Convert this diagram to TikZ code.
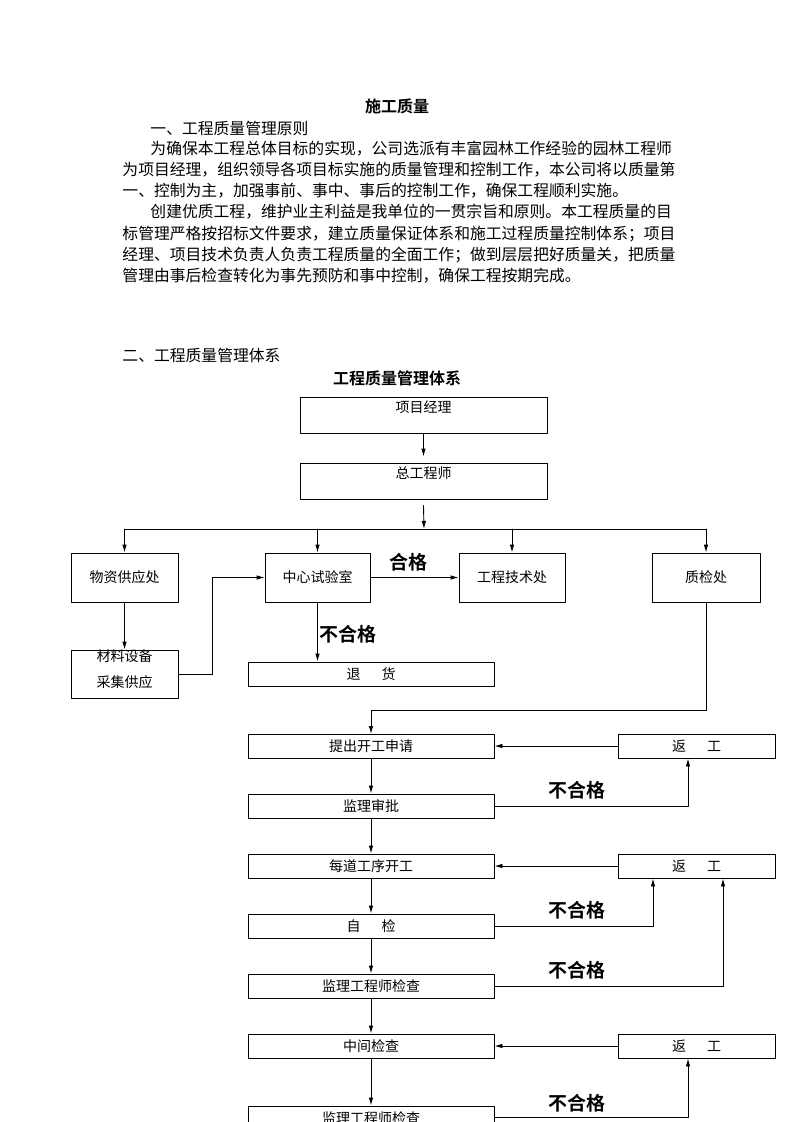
\documentclass[tikz,border=0pt]{standalone}
\usepackage{fontspec}
\setmainfont{Noto Sans CJK SC}[BoldFont={Noto Sans CJK SC Bold}]
\usetikzlibrary{arrows.meta}

\tikzset{
  box/.style={draw=black,line width=0.9pt,inner sep=0pt,font=\fontsize{14}{16}\selectfont},
  para/.style={anchor=west,inner sep=0pt,font=\fontsize{15.8}{21}\selectfont},
  head/.style={inner sep=0pt,font=\fontsize{16}{20}\selectfont\bfseries},
  nok/.style={inner sep=0pt,font=\fontsize{19}{22}\selectfont\bfseries},
}

\begin{document}
\begin{tikzpicture}[line cap=round,line join=round,>={Latex[length=8pt,width=4.5pt]},x=1pt,y=-1pt,line width=0.9pt]
  \fill[white] (0,0) rectangle (793,1122);
  \useasboundingbox (0,0) rectangle (793,1122);
  \clip (0,0) rectangle (793,1122);
  % text part
  \node[head] (titel) at (397,106) {施工质量};
  \node[para] (p0) at (150,128) {一、工程质量管理原则};
  \node[para] (p1) at (150,149) {为确保本工程总体目标的实现，公司选派有丰富园林工作经验的园林工程师};
  \node[para] (p2) at (122,170) {为项目经理，组织领导各项目标实施的质量管理和控制工作，本公司将以质量第};
  \node[para] (p3) at (122,191) {一、控制为主，加强事前、事中、事后的控制工作，确保工程顺利实施。};
  \node[para] (p4) at (150,212) {创建优质工程，维护业主利益是我单位的一贯宗旨和原则。本工程质量的目};
  \node[para] (p5) at (122,234) {标管理严格按招标文件要求，建立质量保证体系和施工过程质量控制体系；项目};
  \node[para] (p6) at (122,255) {经理、项目技术负责人负责工程质量的全面工作；做到层层把好质量关，把质量};
  \node[para] (p7) at (122,276) {管理由事后检查转化为事先预防和事中控制，确保工程按期完成。};
  \node[para] (p8) at (122,355) {二、工程质量管理体系};
  \node[head] (tixi) at (397,378) {工程质量管理体系};
  % upper chart
  \node[box,minimum width=247,minimum height=36,text depth=17pt] (xmjl) at (423.5,415) {项目经理};
  \node[box,minimum width=247,minimum height=36,text depth=17pt] (zgcs) at (423.5,481) {总工程师};
  \node[box,minimum width=107,minimum height=49] (wzgy) at (124.5,577.5) {物资供应处};
  \node[box,minimum width=105,minimum height=49] (zxsys) at (317.5,577.5) {中心试验室};
  \node[box,minimum width=106,minimum height=49] (gcjs) at (512,577.5) {工程技术处};
  \node[box,minimum width=108,minimum height=49] (zjc) at (706,577.5) {质检处};
  \node[box,minimum width=107,minimum height=48] (clsb) at (124.5,674) {};
  \node[box,draw=none,align=center,font=\fontsize{14}{26}\selectfont] (clsbt) at (124.5,669) {材料设备\\采集供应};
  \node[box,minimum width=246,minimum height=24] (th) at (371,674) {退\hspace{1.5em}货};
  \node[nok] (hg) at (408,562) {合格};
  \node[nok] (bhg0) at (348,634) {不合格};
  \coordinate (bus) at (424,529);
  \coordinate (qc) at (706,710);
  \draw[->] (xmjl.south) -- ([yshift=6pt]zgcs.north);
  \draw[->] ([yshift=-6pt]zgcs.south) -- (bus);
  \draw (wzgy.north |- bus) -- (zjc.north |- bus);
  \foreach \n in {wzgy,zxsys,gcjs,zjc}
    \draw[->] (\n.north |- bus) -- (\n.north);
  \draw[->] (zxsys) -- (gcjs);
  \draw[->] (wzgy) -- (clsb);
  \draw[->] (clsb.east) -- ++(34,0) |- (zxsys.west);
  \draw[->] (zxsys) -- (zxsys |- th.north);
  \draw[->] (zjc.south) -- (qc) -| (371,734);
  % lower chart
  \node[box,minimum width=246,minimum height=24] (tckg) at (371,746) {提出开工申请};
  \node[box,minimum width=246,minimum height=24] (jlsp) at (371,806) {监理审批};
  \node[box,minimum width=246,minimum height=24] (mdgx) at (371,866) {每道工序开工};
  \node[box,minimum width=246,minimum height=24] (zj) at (371,926) {自\hspace{1.5em}检};
  \node[box,minimum width=246,minimum height=24] (jlgc) at (371,986) {监理工程师检查};
  \node[box,minimum width=246,minimum height=24] (zjjc) at (371,1046) {中间检查};
  \node[box,minimum width=246,minimum height=24] (jlgcb) at (371,1118) {监理工程师检查};
  \node[box,minimum width=157,minimum height=24] (fga) at (696.5,746) {返\hspace{1.5em}工};
  \node[box,minimum width=157,minimum height=24] (fgb) at (696.5,866) {返\hspace{1.5em}工};
  \node[box,minimum width=157,minimum height=24] (fgc) at (696.5,1046) {返\hspace{1.5em}工};
  \node[nok] (bhga) at (577,790) {不合格};
  \node[nok] (bhgb) at (577,910) {不合格};
  \node[nok] (bhgc) at (577,970) {不合格};
  \node[nok] (bhgd) at (577,1103) {不合格};
  \foreach \a/\b in {tckg/jlsp,jlsp/mdgx,mdgx/zj,zj/jlgc,jlgc/zjjc,zjjc/jlgcb}
    \draw[->] (\a) -- (\b);
  \foreach \f/\t in {fga/tckg,fgb/mdgx,fgc/zjjc}
    \draw[->] (\f) -- (\t);
  \draw[->] (jlsp.east) -| ([xshift=-8.5pt]fga.south);
  \draw[->] (zj.east) -| ([xshift=-43.5pt]fgb.south);
  \draw[->] (jlgc.east) -| ([xshift=26.5pt]fgb.south);
  \draw[->] ([yshift=1pt]jlgcb.east) -| ([xshift=-8.5pt]fgc.south);
\end{tikzpicture}
\end{document}
